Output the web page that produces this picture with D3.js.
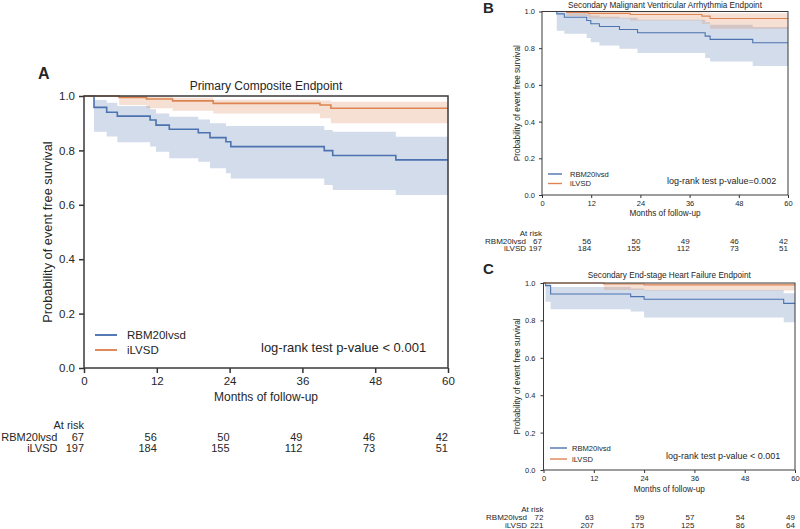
<!DOCTYPE html>
<html><head><meta charset="utf-8">
<script src="https://cdn.jsdelivr.net/npm/d3@7"></script>
<style>
body{margin:0;background:#fff}
svg{display:block}
text{font-family:"Liberation Sans",Arial,Helvetica,sans-serif;fill:#262626}
</style>
</head><body>
<svg id="chart" width="800" height="529"></svg>
<script>
// ---------- shared ----------
const xTicks = [0, 12, 24, 36, 48, 60];
const yTicks = [0, 0.2, 0.4, 0.6, 0.8, 1.0];
const groupNames = ["RBM20lvsd", "iLVSD"];
const groupColors = ["#4c72b0", "#dd8452"];

// ---------- Panel A: Primary Composite Endpoint ----------
const aBlueTime  = [0, 1.65, 3.74, 5.49, 10.9, 11.87, 14.06, 18.84, 20.77, 23.4, 24.2, 39.6, 41.0, 51.4];
const aBlueSurv  = [1.0, 0.958, 0.940, 0.926, 0.912, 0.893, 0.878, 0.865, 0.847, 0.832, 0.814, 0.799, 0.781, 0.765];
const aBlueUpper = [1.0, 0.985, 0.975, 0.963, 0.951, 0.936, 0.924, 0.914, 0.900, 0.890, 0.890, 0.875, 0.869, 0.850];
const aBlueLower = [1.0, 0.869, 0.851, 0.830, 0.814, 0.795, 0.771, 0.758, 0.734, 0.716, 0.697, 0.673, 0.654, 0.636];
const aOrangeTime  = [0, 5.8, 10.3, 14.6, 21.3, 38.9, 40.7];
const aOrangeSurv  = [1.0, 0.995, 0.989, 0.982, 0.973, 0.967, 0.955];
const aOrangeUpper = [1.0, 1.0, 0.998, 0.994, 0.986, 0.983, 0.979];
const aOrangeLower = [1.0, 0.967, 0.955, 0.946, 0.936, 0.918, 0.900];
const aAtRiskBlue   = [67, 56, 50, 49, 46, 42];
const aAtRiskOrange = [197, 184, 155, 112, 73, 51];

// ---------- Panel B: Secondary Malignant Ventricular Arrhythmia Endpoint ----------
const bBlueTime  = [0, 3.6, 5.45, 10.9, 11.9, 14.0, 18.9, 23.3, 39.8, 41.0, 51.4];
const bBlueSurv  = [1.0, 0.987, 0.969, 0.951, 0.933, 0.918, 0.902, 0.884, 0.866, 0.848, 0.830];
const bBlueUpper = [1.0, 1.0, 0.995, 0.985, 0.978, 0.972, 0.966, 0.955, 0.942, 0.928, 0.915];
const bBlueLower = [1.0, 0.895, 0.879, 0.855, 0.833, 0.815, 0.797, 0.774, 0.746, 0.728, 0.703];
const bOrangeTime  = [0, 6.0, 11.3, 21.5, 39.0, 41.0];
const bOrangeSurv  = [1.0, 0.995, 0.990, 0.984, 0.975, 0.962];
const bOrangeUpper = [1.0, 1.0, 0.999, 0.997, 0.994, 0.990];
const bOrangeLower = [1.0, 0.975, 0.962, 0.951, 0.933, 0.906];
const bAtRiskBlue   = [67, 56, 50, 49, 46, 42];
const bAtRiskOrange = [197, 184, 155, 112, 73, 51];

// ---------- Panel C: Secondary End-stage Heart Failure Endpoint ----------
const cBlueTime  = [0, 0.5, 1.7, 20.8, 24.0, 57.3];
const cBlueSurv  = [1.0, 0.986, 0.941, 0.927, 0.913, 0.891];
const cBlueUpper = [1.0, 0.998, 0.978, 0.970, 0.963, 0.945];
const cBlueLower = [1.0, 0.900, 0.859, 0.847, 0.815, 0.790];
const cOrangeTime  = [0, 14.4, 24.0];
const cOrangeSurv  = [1.0, 0.995, 0.990];
const cOrangeUpper = [1.0, 1.0, 0.999];
const cOrangeLower = [1.0, 0.963, 0.960];
const cAtRiskBlue   = [72, 63, 59, 57, 54, 49];
const cAtRiskOrange = [221, 207, 175, 125, 86, 64];

const svg = d3.select("#chart");

function drawPanel(cfg) {
  const g = svg.append("g");
  const x = d3.scaleLinear().domain([0, 60]).range([cfg.x0, cfg.x1]);
  const y = d3.scaleLinear().domain([0, 1]).range([cfg.yb, cfg.yt]);

  const series = cfg.series.map(s => {
    const pts = s.t.map((t, j) => ({t: t, s: s.s[j], lo: s.lo[j], hi: s.hi[j]}));
    const last = pts[pts.length - 1];
    pts.push({t: 60, s: last.s, lo: last.lo, hi: last.hi});
    return pts;
  });

  const area = d3.area().curve(d3.curveStepAfter)
    .x(d => x(d.t)).y0(d => y(d.lo)).y1(d => y(d.hi));
  const line = d3.line().curve(d3.curveStepAfter)
    .x(d => x(d.t)).y(d => y(d.s));

  series.forEach((pts, i) => {
    g.append("path").attr("d", area(pts))
      .attr("fill", groupColors[i]).attr("fill-opacity", 0.25).attr("stroke", "none");
  });
  series.forEach((pts, i) => {
    g.append("path").attr("d", line(pts))
      .attr("fill", "none").attr("stroke", groupColors[i]).attr("stroke-width", cfg.lw);
  });

  // axes
  const xAxis = g.append("g").attr("transform", `translate(0,${cfg.yb})`)
    .call(d3.axisBottom(x).tickValues(xTicks).tickFormat(d3.format("d"))
      .tickSize(cfg.tick).tickPadding(cfg.xpad));
  const yAxis = g.append("g").attr("transform", `translate(${cfg.x0},0)`)
    .call(d3.axisLeft(y).tickValues(yTicks).tickFormat(d3.format(".1f"))
      .tickSize(cfg.tick).tickPadding(cfg.ypad));
  [xAxis, yAxis].forEach(a => {
    a.select(".domain").remove();
    a.selectAll(".tick line").attr("stroke", "#333").attr("stroke-width", cfg.sw);
    a.selectAll(".tick text").attr("font-size", cfg.fTick)
      .attr("font-family", '"Liberation Sans",Arial,sans-serif').attr("fill", "#333");
  });

  // spines
  g.append("rect").attr("x", cfg.x0).attr("y", cfg.yt)
    .attr("width", cfg.x1 - cfg.x0).attr("height", cfg.yb - cfg.yt)
    .attr("fill", "none").attr("stroke", "#3a3a3a").attr("stroke-width", cfg.sw);

  // title
  g.append("text").attr("x", (cfg.x0 + cfg.x1) / 2).attr("y", cfg.titleY)
    .attr("text-anchor", "middle").attr("dy", "0.35em")
    .attr("font-size", cfg.fTitle).text(cfg.title);
  // panel letter
  g.append("text").attr("x", cfg.letterX).attr("y", cfg.letterY)
    .attr("font-size", cfg.fLetter).attr("font-weight", "bold").attr("fill", "#000")
    .text(cfg.letter);
  // axis labels
  g.append("text").attr("x", (cfg.x0 + cfg.x1) / 2).attr("y", cfg.xlabY)
    .attr("text-anchor", "middle").attr("dy", "0.35em")
    .attr("font-size", cfg.fLabel).text("Months of follow-up");
  g.append("text")
    .attr("transform", `translate(${cfg.ylabX},${(cfg.yt + cfg.yb) / 2}) rotate(-90)`)
    .attr("text-anchor", "middle").attr("dy", "0.35em")
    .attr("font-size", cfg.fYLabel).text("Probability of event free survival");

  // legend
  groupNames.forEach((name, i) => {
    const ly = cfg.legY[i];
    g.append("line").attr("x1", cfg.legX1).attr("x2", cfg.legX2)
      .attr("y1", ly).attr("y2", ly)
      .attr("stroke", groupColors[i]).attr("stroke-width", cfg.lw + 0.3);
    g.append("text").attr("x", cfg.legTX).attr("y", ly).attr("dy", "0.35em")
      .attr("font-size", cfg.fLeg).text(name);
  });
  // p-value
  g.append("text").attr("x", cfg.pX).attr("y", cfg.pY).attr("dy", "0.35em")
    .attr("font-size", cfg.fP).text(cfg.pText);

  // at-risk table
  g.append("text").attr("x", cfg.x0).attr("y", cfg.riskY[0]).attr("dy", "0.35em")
    .attr("text-anchor", "end").attr("font-size", cfg.fRisk).text("At risk");
  [cfg.atRisk[0], cfg.atRisk[1]].forEach((row, i) => {
    const ry = cfg.riskY[i + 1];
    g.append("text").attr("x", cfg.rowLabX).attr("y", ry).attr("dy", "0.35em")
      .attr("text-anchor", "end").attr("font-size", cfg.fRisk).text(groupNames[i]);
    row.forEach((v, j) => {
      g.append("text").attr("x", x(xTicks[j])).attr("y", ry).attr("dy", "0.35em")
        .attr("text-anchor", "end").attr("font-size", cfg.fRisk).text(v);
    });
  });
}

drawPanel({
  x0: 84, x1: 448, yt: 96, yb: 368, lw: 1.6, sw: 1.5, tick: 5, xpad: 4, ypad: 4,
  fTick: 11.5, fTitle: 12, fLabel: 12, fYLabel: 12.8, fLeg: 11.5, fP: 13, fRisk: 11, fLetter: 16,
  title: "Primary Composite Endpoint", titleY: 86, letter: "A", letterX: 38, letterY: 79,
  xlabY: 397, ylabX: 47.5,
  legX1: 95, legX2: 117, legY: [335, 350], legTX: 127,
  pX: 261, pY: 347, pText: "log-rank test p-value < 0.001",
  riskY: [425, 437, 448.5], rowLabX: 57.5,
  series: [
    {t: aBlueTime, s: aBlueSurv, lo: aBlueLower, hi: aBlueUpper},
    {t: aOrangeTime, s: aOrangeSurv, lo: aOrangeLower, hi: aOrangeUpper}
  ],
  atRisk: [aAtRiskBlue, aAtRiskOrange]
});

drawPanel({
  x0: 542, x1: 788, yt: 11.5, yb: 195, lw: 1.1, sw: 1, tick: 3, xpad: 3, ypad: 4,
  fTick: 7.5, fTitle: 8.2, fLabel: 8.2, fYLabel: 8.2, fLeg: 7.6, fP: 9, fRisk: 8, fLetter: 15,
  title: "Secondary Malignant Ventricular Arrhythmia Endpoint", titleY: 4.8, letter: "B", letterX: 483, letterY: 12.5,
  xlabY: 213, ylabX: 517.5,
  legX1: 548, legX2: 562, legY: [174, 183.5], legTX: 570,
  pX: 667, pY: 181, pText: "log-rank test p-value=0.002",
  riskY: [233, 241, 248.5], rowLabX: 526,
  series: [
    {t: bBlueTime, s: bBlueSurv, lo: bBlueLower, hi: bBlueUpper},
    {t: bOrangeTime, s: bOrangeSurv, lo: bOrangeLower, hi: bOrangeUpper}
  ],
  atRisk: [bAtRiskBlue, bAtRiskOrange]
});

drawPanel({
  x0: 543.5, x1: 795, yt: 283, yb: 470, lw: 1.1, sw: 1, tick: 3, xpad: 3, ypad: 5,
  fTick: 7.5, fTitle: 8.2, fLabel: 8.2, fYLabel: 8.2, fLeg: 7.6, fP: 9, fRisk: 8, fLetter: 15,
  title: "Secondary End-stage Heart Failure Endpoint", titleY: 275, letter: "C", letterX: 483, letterY: 274,
  xlabY: 489, ylabX: 517,
  legX1: 550, legX2: 567, legY: [448, 459], legTX: 572,
  pX: 666, pY: 456, pText: "log-rank test p-value < 0.001",
  riskY: [509, 517, 525], rowLabX: 527,
  series: [
    {t: cBlueTime, s: cBlueSurv, lo: cBlueLower, hi: cBlueUpper},
    {t: cOrangeTime, s: cOrangeSurv, lo: cOrangeLower, hi: cOrangeUpper}
  ],
  atRisk: [cAtRiskBlue, cAtRiskOrange]
});
</script>
</body></html>
